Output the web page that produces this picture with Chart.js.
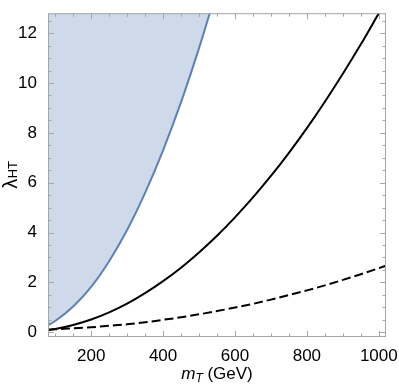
<!DOCTYPE html>
<html><head><meta charset="utf-8">
<script src="https://cdn.jsdelivr.net/npm/chart.js@4"></script>
<style>html,body{margin:0;padding:0;background:#fff}#wrap{width:399px;height:385px;position:relative}</style>
</head><body><div id="wrap"><canvas id="c" width="399" height="385"></canvas></div>
<script>
// m_T values (GeV) for the black curves
const massGeV = [80,100,150,200,250,300,350,400,450,500,550,600,650,700,750,800,850,900,950,1000,1020];
// solid black curve
const lambdaSolid = [0.09,0.13,0.29,0.51,0.80,1.15,1.57,2.05,2.59,3.20,3.87,4.61,5.41,6.27,7.20,8.19,9.25,10.37,11.55,12.80,13.30];
// dashed black curve
const lambdaDashed = [0.10,0.12,0.16,0.20,0.26,0.32,0.40,0.50,0.60,0.72,0.85,0.99,1.14,1.31,1.49,1.68,1.88,2.10,2.33,2.57,2.67];
// boundary of the shaded (blue) region
const massExcl = [80,100,150,200,250,300,350,400,450,500,530,550];
const lambdaExcl = [0.28,0.45,1.03,1.82,2.85,4.10,5.59,7.30,9.23,11.40,12.81,13.80];
// tick labels
const xTicks = [200,400,600,800,1000];
const yTicks = [0,2,4,6,8,10,12];
const xMinor = [100,150,250,300,350,450,500,550,650,700,750,850,900,950];
const yMinor = [0.5,1,1.5,2.5,3,3.5,4.5,5,5.5,6.5,7,7.5,8.5,9,9.5,10.5,11,11.5,12.5];

const FONT = 'Liberation Sans, Arial, sans-serif';
const frameColor = '#a6a6a6';

const framePlugin = {
  id: 'frame',
  afterDraw(chart) {
    const {ctx, chartArea: a, scales: {x, y}} = chart;
    ctx.save();
    ctx.strokeStyle = frameColor;
    ctx.lineWidth = 1;
    ctx.strokeRect(a.left + 0.5, a.top + 0.5, a.right - a.left - 1, a.bottom - a.top - 1);
    ctx.beginPath();
    const tick = (v, len, horiz) => {
      if (horiz) {
        const px = Math.round(x.getPixelForValue(v)) + 0.5;
        ctx.moveTo(px, a.bottom); ctx.lineTo(px, a.bottom - len);
        ctx.moveTo(px, a.top); ctx.lineTo(px, a.top + len);
      } else {
        const py = Math.round(y.getPixelForValue(v)) + 0.5;
        ctx.moveTo(a.left, py); ctx.lineTo(a.left + len, py);
        ctx.moveTo(a.right, py); ctx.lineTo(a.right - len, py);
      }
    };
    xTicks.forEach(v => tick(v, 6, true));
    xMinor.forEach(v => tick(v, 3.5, true));
    yTicks.forEach(v => tick(v, 6, false));
    yMinor.forEach(v => tick(v, 3.5, false));
    ctx.stroke();

    // x title: m_T (GeV)
    ctx.fillStyle = '#000';
    ctx.textBaseline = 'alphabetic';
    const big = '17px ' + FONT, bigI = 'italic 17px ' + FONT, sub = 'italic 12px ' + FONT;
    ctx.font = bigI; const w1 = ctx.measureText('m').width;
    ctx.font = sub; const w2 = ctx.measureText('T').width;
    ctx.font = big; const w3 = ctx.measureText(' (GeV)').width;
    const cx = (a.left + a.right) / 2;
    let sx = cx - (w1 + w2 + w3) / 2;
    const by = 379;
    ctx.font = bigI; ctx.fillText('m', sx, by); sx += w1;
    ctx.font = sub; ctx.fillText('T', sx, by + 3); sx += w2;
    ctx.font = big; ctx.fillText(' (GeV)', sx, by);

    // y title: lambda_HT
    ctx.save();
    ctx.translate(17, (a.top + a.bottom) / 2);
    ctx.rotate(-Math.PI / 2);
    const lam = '20px ' + FONT, subU = '13px ' + FONT;
    ctx.font = lam; const l1 = ctx.measureText('λ').width;
    ctx.font = subU; const l2 = ctx.measureText('HT').width;
    let ly = -(l1 + l2) / 2;
    ctx.font = lam; ctx.fillText('λ', ly, 0); ly += l1;
    ctx.font = subU; ctx.fillText('HT', ly + 0.5, 0);
    ctx.restore();
    ctx.restore();
  }
};

const pts = (xs, ys) => xs.map((v, i) => ({x: v, y: ys[i]}));

new Chart(document.getElementById('c'), {
  type: 'line',
  data: {
    datasets: [
      {
        data: pts(massExcl, lambdaExcl),
        borderColor: '#5e81b5', borderWidth: 2,
        backgroundColor: 'rgba(94,129,181,0.3)',
        fill: 'end', pointRadius: 0, cubicInterpolationMode: 'monotone'
      },
      {
        data: pts(massGeV, lambdaSolid),
        borderColor: '#000', borderWidth: 2, fill: false,
        pointRadius: 0, cubicInterpolationMode: 'monotone'
      },
      {
        data: pts(massGeV, lambdaDashed),
        borderColor: '#000', borderWidth: 2, borderDash: [9, 4], fill: false,
        pointRadius: 0, cubicInterpolationMode: 'monotone'
      }
    ]
  },
  options: {
    responsive: false, animation: false,
    layout: {padding: {top: 1, right: 13, left: 0, bottom: 0}},
    plugins: {legend: {display: false}, tooltip: {enabled: false}},
    scales: {
      x: {
        type: 'linear', min: 80, max: 1020,
        afterBuildTicks: s => { s.ticks = xTicks.map(v => ({value: v})); },
        afterFit: s => { s.height = 48; },
        grid: {display: false}, border: {display: false},
        ticks: {color: '#000', font: {family: FONT, size: 17}, padding: 1, maxRotation: 0, autoSkip: false,
                callback: v => String(v)}
      },
      y: {
        type: 'linear', min: -0.19, max: 12.8,
        afterBuildTicks: s => { s.ticks = yTicks.map(v => ({value: v})); },
        afterFit: s => { s.width = 48; },
        grid: {display: false}, border: {display: false},
        ticks: {color: '#000', font: {family: FONT, size: 17}, padding: 3, autoSkip: false,
                callback: v => String(v)}
      }
    }
  },
  plugins: [framePlugin]
});
</script></body></html>
